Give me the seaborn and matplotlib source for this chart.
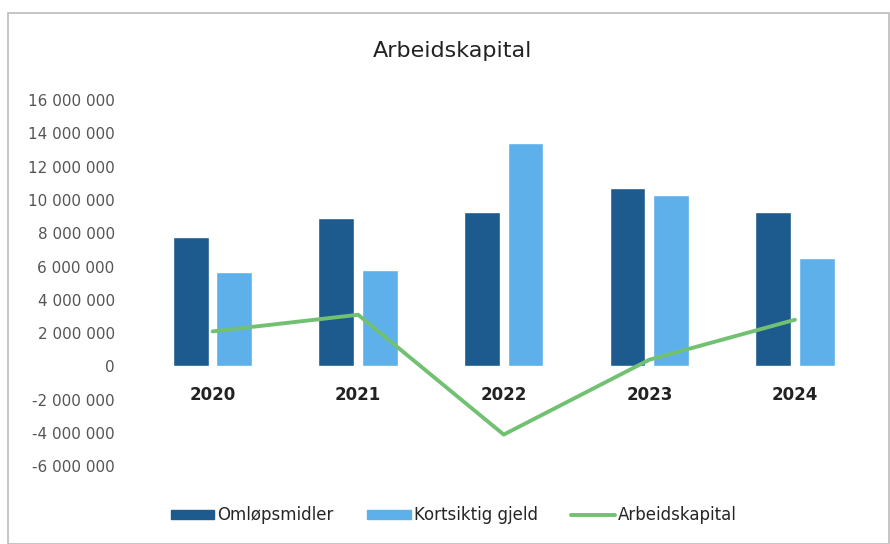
import matplotlib
matplotlib.use("Agg")
import matplotlib.pyplot as plt
import seaborn as sns
import pandas as pd
from matplotlib.patches import Rectangle, Patch
from matplotlib.lines import Line2D
from matplotlib.ticker import FuncFormatter

years = ["2020", "2021", "2022", "2023", "2024"]
omlopsmidler = [7_800_000, 8_900_000, 9_300_000, 10_700_000, 9_300_000]
kortsiktig_gjeld = [5_700_000, 5_800_000, 13_400_000, 10_300_000, 6_500_000]
arbeidskapital = [2_100_000, 3_100_000, -4_100_000, 400_000, 2_800_000]
series_names = ["Omløpsmidler", "Kortsiktig gjeld", "Arbeidskapital"]

dark = "#1d5a8e"
light = "#5db0ea"
green = "#72c172"

bars = pd.DataFrame({
    "year": years * 2,
    "value": omlopsmidler + kortsiktig_gjeld,
    "series": [series_names[0]] * len(years) + [series_names[1]] * len(years),
})
line = pd.DataFrame({"year": years, "value": arbeidskapital})

sns.set_theme(style="white")
plt.rcParams["font.family"] = ["DejaVu Sans"]

fig = plt.figure(figsize=(8.9, 5.44), dpi=100)
ax = fig.add_axes([0.157, 0.143, 0.818, 0.673])

sns.barplot(data=bars, x="year", y="value", hue="series",
            palette=[dark, light], width=0.6, gap=0.18, ax=ax,
            legend=False, saturation=1)
sns.lineplot(data=line, x="year", y="value", color=green, linewidth=2.8,
             ax=ax, legend=False, sort=False)

ax.set_ylim(-6_000_000, 16_000_000)
ax.set_xlim(-0.5, 4.5)
ax.set_yticks(range(-6_000_000, 16_000_001, 2_000_000))
ax.yaxis.set_major_formatter(FuncFormatter(lambda v, p: f"{int(v):,}".replace(",", " ")))
ax.tick_params(axis="y", labelsize=11, labelcolor="#555555", length=0, pad=18)
ax.set_xlabel("")
ax.set_ylabel("")
ax.set_xticks([])
for i, y in enumerate(years):
    ax.text(i, -1_750_000, y, ha="center", va="center", fontsize=12,
            color="#222222", fontweight="semibold")
for s in ax.spines.values():
    s.set_visible(False)
ax.grid(False)

fig.text(0.509, 0.907, "Arbeidskapital", ha="center", va="center",
         fontsize=16, color="#222222")

handles = [
    Patch(facecolor=dark, edgecolor=dark),
    Patch(facecolor=light, edgecolor=light),
    Line2D([0], [0], color=green, linewidth=2.8),
]
fig.legend(handles, series_names, loc="center", bbox_to_anchor=(0.51, 0.053),
           ncol=3, frameon=False, fontsize=12, handlelength=2.6,
           handleheight=0.45, handletextpad=0.2, columnspacing=2.0)

fig.patches.append(Rectangle((0.009, 0.0), 0.99, 0.977, transform=fig.transFigure,
                             fill=False, edgecolor="#bbbbbb", linewidth=1.2))

fig.savefig("out.png", dpi=100)
